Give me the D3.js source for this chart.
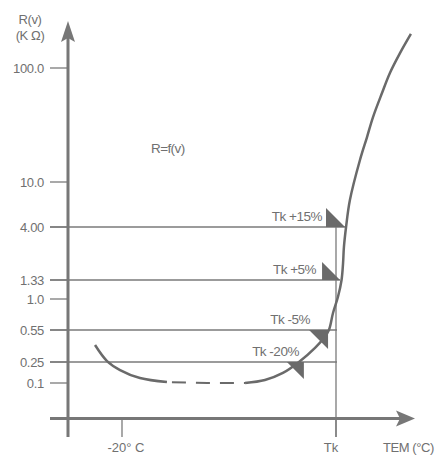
<!DOCTYPE html>
<html>
<head>
<meta charset="utf-8">
<script src="https://cdn.jsdelivr.net/npm/d3@7/dist/d3.min.js"></script>
<style>
  body { margin: 0; background: #fff; }
  text { font-family: "Liberation Sans", Arial, sans-serif; fill: #707070; }
</style>
</head>
<body>
<svg id="chart" width="435" height="456"></svg>
<script>
// valeurs du graphique (R en kOhm, T en degres C, Tk pris a 80)
var yTicks = [0.1, 0.25, 0.55, 1.0, 1.33, 4.00, 10.0, 100.0];
var yTickLabels = ["0.1", "0.25", "0.55", "1.0", "1.33", "4.00", "10.0", "100.0"];
var tk = 80;
var xTicks = [-20, tk];
var xTickLabels = ["-20° C", "Tk"];

var curveLeft = [[-32.6, 0.38], [-27.0, 0.256], [-20.9, 0.176], [-11.6, 0.124], [1.0, 0.104]];
var curveDashed = [[1.0, 0.104], [20, 0.1], [37.5, 0.1]];
var curveRight = [[37.5, 0.1], [46.8, 0.114], [55.2, 0.155], [62.7, 0.25], [70.2, 0.354],
  [74.4, 0.455], [76.7, 0.55], [78.6, 0.763], [80.9, 1.03], [82.6, 1.33], [83.3, 1.89],
  [83.7, 2.63], [84.7, 4.0], [86.5, 6.93], [91.2, 15.6], [94.5, 24.8], [97.3, 37.1],
  [101.5, 60.3], [105.2, 90.4], [109.9, 135], [115.0, 199]];

var markerLabels = ["Tk +15%", "Tk +5%", "Tk -5%", "Tk -20%"];
var markerR = [4.00, 1.33, 0.55, 0.25];
var markerT = [84.2, 81.9, 76.3, 65.0];

// mise en page
var lineColor = "#7a7a7a";
var axisColor = "#777";
var markColor = "#6a6a6a";
var axisX = 68, axisY = 418.5, tickLeft = 50, axisBottom = 437;
var markerSize = [19, 18, 19, 17];
var markerDown = [false, false, true, true];
var labelDx = [-23, -24, -18, -5];

var svg = d3.select("#chart");

var x = d3.scaleLinear().domain([-20, tk]).range([122, 336]);
// echelle log par morceaux (le dessin original n'est pas une vraie echelle log)
var y = d3.scaleLog().domain(yTicks).range([383, 362, 330, 299, 280, 227, 182, 68]);

// lignes de reference
var refEnd = markerT.map(function(t) { return Math.max(x(t), x(tk) + 1); });
svg.selectAll(".ref")
  .data(markerR)
  .enter().append("line")
    .attr("x1", tickLeft)
    .attr("x2", (d, i) => refEnd[i])
    .attr("y1", d => y(d))
    .attr("y2", d => y(d))
    .attr("stroke", lineColor)
    .attr("stroke-width", 1.3);

// ligne verticale Tk
svg.append("line")
  .attr("x1", x(tk)).attr("x2", x(tk))
  .attr("y1", y(markerR[0])).attr("y2", axisBottom)
  .attr("stroke", lineColor)
  .attr("stroke-width", 1.3);

// graduations Y
svg.selectAll(".ytick")
  .data(yTicks)
  .enter().append("line")
    .attr("x1", tickLeft).attr("x2", axisX)
    .attr("y1", d => y(d)).attr("y2", d => y(d))
    .attr("stroke", lineColor)
    .attr("stroke-width", 1.3);

svg.selectAll(".ylab")
  .data(yTicks)
  .enter().append("text")
    .attr("x", 44)
    .attr("y", d => y(d))
    .attr("dy", "0.36em")
    .attr("text-anchor", "end")
    .attr("font-size", "13px")
    .attr("letter-spacing", "-0.3px")
    .text((d, i) => yTickLabels[i]);

// graduations X
svg.selectAll(".xtick")
  .data(xTicks)
  .enter().append("line")
    .attr("x1", d => x(d)).attr("x2", d => x(d))
    .attr("y1", axisY).attr("y2", axisBottom)
    .attr("stroke", lineColor)
    .attr("stroke-width", 1.3);

svg.selectAll(".xlab")
  .data(xTicks)
  .enter().append("text")
    .attr("x", (d, i) => x(d) - (i == 1 ? 5 : -4))
    .attr("y", 452)
    .attr("text-anchor", "middle")
    .attr("font-size", "13px")
    .text((d, i) => xTickLabels[i]);

svg.append("text")
  .attr("x", 434).attr("y", 452)
  .attr("text-anchor", "end")
  .attr("font-size", "13px")
  .attr("letter-spacing", "-0.4px")
  .text("TEM (°C)");

// axes
svg.append("line")
  .attr("x1", axisX).attr("x2", axisX)
  .attr("y1", 38).attr("y2", axisBottom)
  .attr("stroke", axisColor).attr("stroke-width", 3);
svg.append("path")
  .attr("d", "M" + axisX + ",21 L" + (axisX + 7) + ",42 L" + axisX + ",38 L" + (axisX - 7) + ",42 Z")
  .attr("fill", axisColor);

svg.append("line")
  .attr("x1", tickLeft).attr("x2", 400)
  .attr("y1", axisY).attr("y2", axisY)
  .attr("stroke", axisColor).attr("stroke-width", 3);
svg.append("path")
  .attr("d", "M415," + axisY + " L396," + (axisY - 8) + " L400," + axisY + " L396," + (axisY + 8) + " Z")
  .attr("fill", axisColor);

// titre de l'axe Y
svg.append("text").attr("x", 30).attr("y", 24)
  .attr("text-anchor", "middle").attr("font-size", "13px").attr("letter-spacing", "-0.4px")
  .text("R(v)");
svg.append("text").attr("x", 30).attr("y", 40)
  .attr("text-anchor", "middle").attr("font-size", "13px").attr("letter-spacing", "-0.4px")
  .text("(K Ω)");

svg.append("text").attr("x", 151).attr("y", 153)
  .attr("font-size", "13.5px").attr("letter-spacing", "-0.6px")
  .text("R=f(v)");

// courbe R=f(T)
var line = d3.line()
  .x(d => x(d[0]))
  .y(d => y(d[1]))
  .curve(d3.curveCatmullRom);

svg.append("path").datum(curveLeft)
  .attr("d", line).attr("fill", "none")
  .attr("stroke", markColor).attr("stroke-width", 2.5);
svg.append("path").datum(curveDashed)
  .attr("d", d3.line().x(d => x(d[0])).y(d => y(d[1])))
  .attr("fill", "none")
  .attr("stroke", markColor).attr("stroke-width", 2)
  .attr("stroke-dasharray", "14,10").attr("stroke-dashoffset", 19);
svg.append("path").datum(curveRight)
  .attr("d", line).attr("fill", "none")
  .attr("stroke", markColor).attr("stroke-width", 2.5);

// triangles et etiquettes
markerLabels.forEach(function(lab, i) {
  var ax = x(markerT[i]), ay = y(markerR[i]), s = markerSize[i];
  var d;
  if (markerDown[i]) {
    d = "M" + (ax - s) + "," + ay + " L" + ax + "," + ay + " L" + ax + "," + (ay + s) + " Z";
  } else {
    d = "M" + (ax - s) + "," + (ay - s) + " L" + (ax - s) + "," + ay + " L" + ax + "," + ay + " Z";
  }
  svg.append("path").attr("d", d).attr("fill", markColor);
  svg.append("text")
    .attr("x", ax + labelDx[i])
    .attr("y", ay - 6)
    .attr("text-anchor", "end")
    .attr("font-size", "13.5px")
    .attr("letter-spacing", "-0.5px")
    .text(lab);
});
</script>
</body>
</html>
